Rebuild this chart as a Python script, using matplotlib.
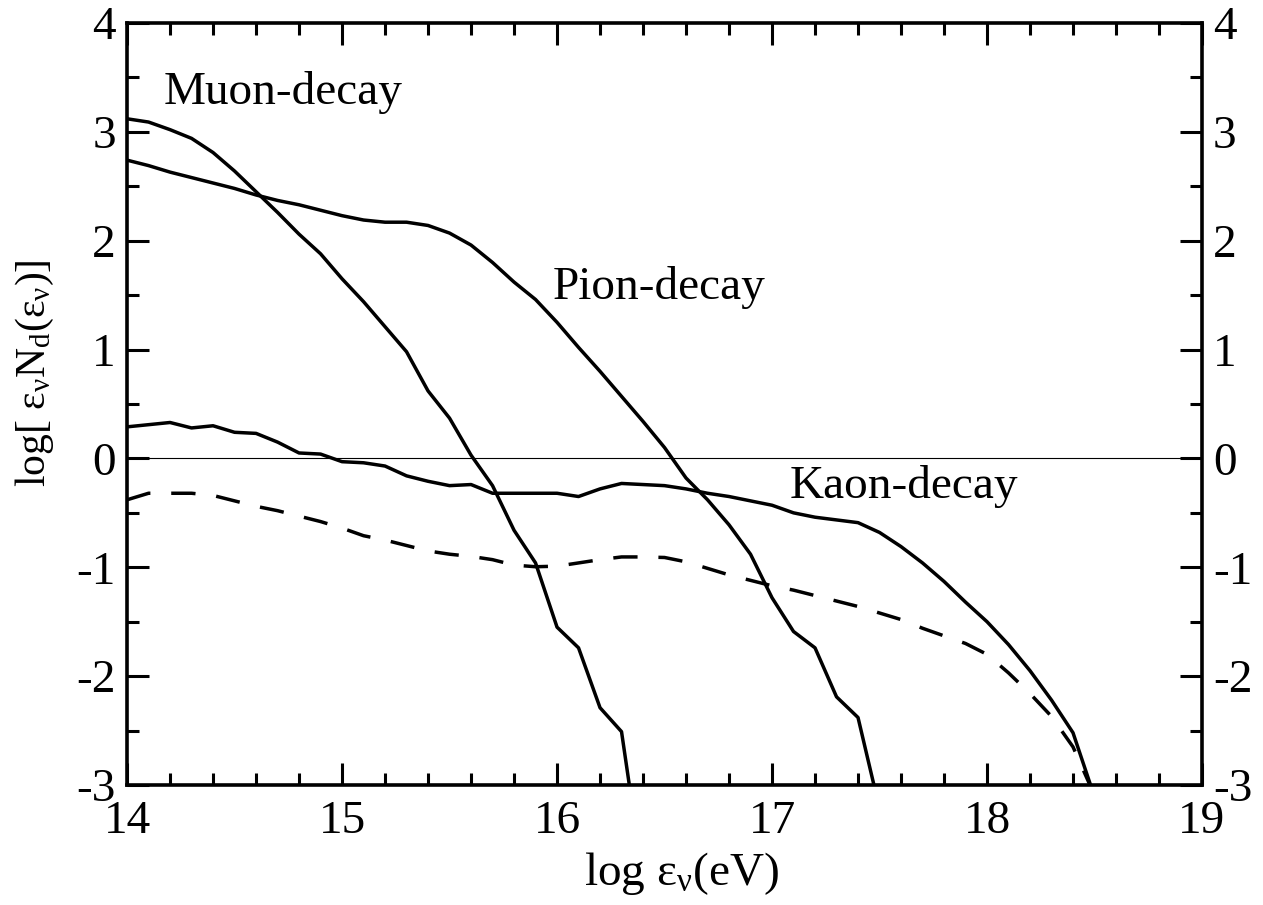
import numpy as np
import matplotlib
matplotlib.use('Agg')
import matplotlib.pyplot as plt
from matplotlib.ticker import MultipleLocator

plt.rcParams['font.family'] = ['Liberation Serif', 'DejaVu Serif']
plt.rcParams['mathtext.fontset'] = 'custom'
plt.rcParams['mathtext.rm'] = 'Liberation Serif'
plt.rcParams['mathtext.it'] = 'Liberation Serif:italic'
plt.rcParams['axes.unicode_minus'] = False

# log energy (eV) and log[eps N_d(eps)]
muon_x = [14.0, 14.1, 14.2, 14.3, 14.4, 14.5, 14.6, 14.7, 14.8, 14.9, 15.0,
          15.1, 15.2, 15.3, 15.4, 15.5, 15.6, 15.7, 15.8, 15.9, 16.0, 16.1,
          16.2, 16.3, 16.34]
muon_y = [3.12, 3.09, 3.02, 2.94, 2.81, 2.64, 2.45, 2.26, 2.06, 1.88, 1.65,
          1.44, 1.21, 0.98, 0.62, 0.37, 0.03, -0.25, -0.66, -0.96, -1.55, -1.74,
          -2.29, -2.51, -3.05]

pion_x = [14.0, 14.1, 14.2, 14.3, 14.4, 14.5, 14.6, 14.7, 14.8, 14.9, 15.0,
          15.1, 15.2, 15.3, 15.4, 15.5, 15.6, 15.7, 15.8, 15.9, 16.0, 16.1,
          16.2, 16.3, 16.4, 16.5, 16.6, 16.7, 16.8, 16.9, 17.0, 17.1, 17.2,
          17.3, 17.4, 17.48]
pion_y = [2.74, 2.69, 2.63, 2.58, 2.53, 2.48, 2.42, 2.37, 2.33, 2.28, 2.23,
          2.19, 2.17, 2.17, 2.14, 2.07, 1.96, 1.80, 1.62, 1.46, 1.25, 1.02,
          0.80, 0.57, 0.34, 0.10, -0.18, -0.38, -0.61, -0.88, -1.28, -1.59, -1.74,
          -2.19, -2.38, -3.05]

kaon_x = [14.0, 14.1, 14.2, 14.3, 14.4, 14.5, 14.6, 14.7, 14.8, 14.9, 15.0,
          15.1, 15.2, 15.3, 15.4, 15.5, 15.6, 15.7, 15.8, 15.9, 16.0, 16.1,
          16.2, 16.3, 16.4, 16.5, 16.6, 16.7, 16.8, 16.9, 17.0, 17.1, 17.2,
          17.4, 17.5, 17.6, 17.7, 17.8, 17.9, 18.0, 18.1, 18.2, 18.3, 18.4,
          18.49]
kaon_y = [0.29, 0.31, 0.33, 0.28, 0.30, 0.24, 0.23, 0.15, 0.05, 0.04, -0.03,
          -0.04, -0.07, -0.16, -0.21, -0.25, -0.24, -0.32, -0.32, -0.32, -0.32, -0.35,
          -0.28, -0.23, -0.24, -0.25, -0.28, -0.32, -0.35, -0.39, -0.43, -0.50, -0.54,
          -0.59, -0.68, -0.81, -0.96, -1.13, -1.32, -1.50, -1.71, -1.95, -2.22, -2.52,
          -3.05]

total_x = [14.0, 14.1, 14.2, 14.3, 14.4, 14.5, 14.6, 14.7, 14.8, 14.9, 15.0,
           15.1, 15.2, 15.3, 15.4, 15.5, 15.6, 15.7, 15.8, 15.9, 16.0, 16.1,
           16.2, 16.3, 16.4, 16.5, 16.6, 16.7, 16.8, 16.9, 17.0, 17.1, 17.2,
           17.3, 17.4, 17.5, 17.6, 17.7, 17.8, 17.9, 18.0, 18.1, 18.2, 18.3,
           18.4, 18.49]
total_y = [-0.38, -0.32, -0.32, -0.32, -0.34, -0.39, -0.44, -0.48, -0.53, -0.58, -0.64,
           -0.71, -0.75, -0.80, -0.85, -0.88, -0.90, -0.93, -0.98, -0.995, -0.99, -0.96,
           -0.93, -0.905, -0.905, -0.91, -0.95, -1.01, -1.07, -1.12, -1.17, -1.21, -1.26,
           -1.31, -1.36, -1.42, -1.48, -1.56, -1.63, -1.70, -1.80, -1.97, -2.16, -2.37,
           -2.65, -3.05]

fig = plt.figure(figsize=(12.63, 9.05), dpi=100)
ax = fig.add_axes([0.1006, 0.1326, 0.8511, 0.842])

lw = 2.5
ax.plot(muon_x, muon_y, color='black', lw=lw)
ax.plot(pion_x, pion_y, color='black', lw=lw)
ax.plot(kaon_x, kaon_y, color='black', lw=lw)
ax.plot(total_x, total_y, color='black', lw=lw, dashes=(7, 6))
ax.axhline(0, color='black', lw=0.8)

ax.set_xlim(14, 19)
ax.set_ylim(-3, 4)

ax.xaxis.set_major_locator(MultipleLocator(1))
ax.xaxis.set_minor_locator(MultipleLocator(0.2))
ax.yaxis.set_major_locator(MultipleLocator(1))
ax.yaxis.set_minor_locator(MultipleLocator(0.5))
ax.tick_params(which='both', direction='in', top=True, right=True,
               labelright=True, width=2.2, labelsize=34)
ax.tick_params(which='major', length=16)
ax.tick_params(which='minor', length=8.5)
ax.tick_params(axis='y', pad=8)
ax.tick_params(axis='x', pad=11)
for sp in ax.spines.values():
    sp.set_linewidth(2.6)

ax.set_xlabel(r'log ε$_\mathrm{ν}$(eV)', fontsize=34)
ax.xaxis.set_label_coords(0.516, -0.085)
ax.set_ylabel(r'log[ ε$_\mathrm{ν}$N$_\mathrm{d}$(ε$_\mathrm{ν}$)]', fontsize=30)
ax.yaxis.set_label_coords(-0.066, 0.54)

ax.text(14.17, 3.36, 'Muon-decay', fontsize=34, va='center', ha='left')
ax.text(15.98, 1.57, 'Pion-decay', fontsize=34, va='center', ha='left')
ax.text(17.08, -0.26, 'Kaon-decay', fontsize=34, va='center', ha='left')

fig.savefig('out.png', dpi=100)
